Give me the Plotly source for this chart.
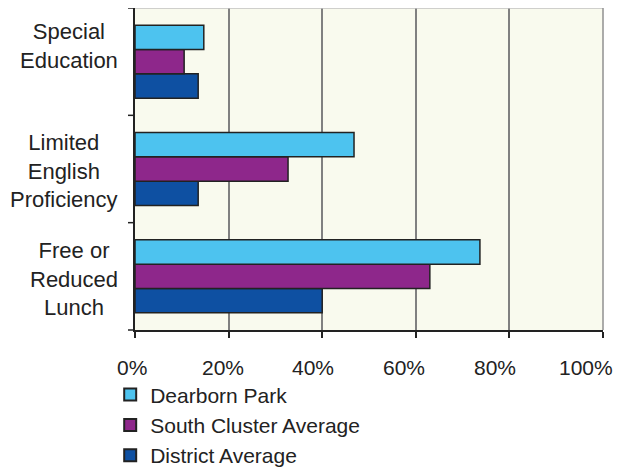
import plotly.graph_objects as go

categories = ["Free or Reduced Lunch", "Limited English Proficiency", "Special Education"]
cat_labels = ["Free or<br>Reduced<br>Lunch", "Limited<br>English<br>Proficiency", "Special<br>Education"]
series_names = ["Dearborn Park", "South Cluster Average", "District Average"]
dearborn = [73.7, 46.8, 14.7]
south = [63.0, 32.7, 10.5]
district = [40.0, 13.5, 13.5]
colors = ["#4DC3EF", "#8E278B", "#0E50A2"]
tick_vals = [0, 20, 40, 60, 80, 100]
tick_text = ["0%", "20%", "40%", "60%", "80%", "100%"]

fig = go.Figure()
values = [dearborn, south, district]
# add in reverse so Dearborn is on top within each group
for i in [2, 1, 0]:
    fig.add_trace(go.Bar(
        y=categories, x=values[i], orientation="h", name=series_names[i],
        marker=dict(color=colors[i], line=dict(color="#222222", width=1.5)),
        legendrank=i,
    ))

label_yshift = [-3, -2, 16]
for c, lab, ys in zip(categories, cat_labels, label_yshift):
    fig.add_annotation(x=0, xref="paper", y=c, yref="y", text=lab,
                       showarrow=False, xanchor="right", xshift=-15, yshift=ys,
                       align="center", font=dict(size=22, color="#222222"))

# x tick labels (slightly compressed spacing as in the original)
for v, t in zip(tick_vals, tick_text):
    fig.add_annotation(x=v, xref="x", y=0, yref="paper", text=t, showarrow=False,
                       xanchor="center", yanchor="top", yshift=-24,
                       xshift=-3 - 0.145 * v, font=dict(size=21, color="#222222"))

fig.update_layout(
    width=634, height=480,
    margin=dict(l=127, r=39, t=0, b=158),
    paper_bgcolor="white", plot_bgcolor="#F9FAEE",
    font=dict(family="Liberation Sans, Arial, sans-serif", size=21, color="#222222"),
    barmode="group", bargap=0.32, bargroupgap=0,
    showlegend=True,
    legend=dict(orientation="v", x=-0.053, xanchor="left", y=-0.138, yanchor="top",
                font=dict(size=21), tracegroupgap=0, itemsizing="constant",
                bgcolor="rgba(0,0,0,0)"),
    xaxis=dict(range=[0, 100], tickvals=tick_vals, showticklabels=False,
               showgrid=True, gridcolor="#808080", gridwidth=1.5,
               showline=True, linecolor="#222222", linewidth=1.5,
               ticks="outside", ticklen=6, tickcolor="#222222", tickwidth=1.5,
               zeroline=False, mirror=False),
    yaxis=dict(showticklabels=False, showline=True, linecolor="#222222", linewidth=1.5,
               ticks="", showgrid=False, zeroline=False,
               categoryorder="array", categoryarray=categories),
)
# plot border top/right
fig.add_shape(type="line", xref="paper", yref="paper", x0=0, x1=1, y0=1, y1=1,
              line=dict(color="#C0C0C0", width=1.5))
fig.add_shape(type="line", xref="paper", yref="paper", x0=1, x1=1, y0=0, y1=1,
              line=dict(color="#909090", width=1.5))
# category separator ticks on y axis
for yv in [0, 1/3, 2/3, 1]:
    fig.add_shape(type="line", xref="paper", yref="paper", x0=-0.015, x1=0, y0=yv, y1=yv,
                  line=dict(color="#222222", width=1.5))

fig.write_html("out.html")
